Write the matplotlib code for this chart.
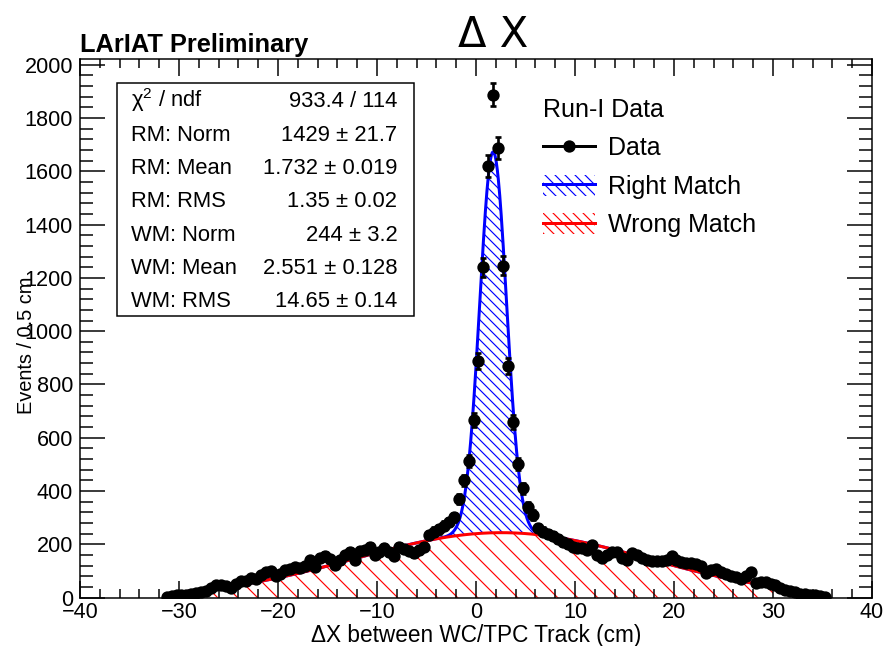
import numpy as np
import matplotlib
matplotlib.use("Agg")
import matplotlib.pyplot as plt
from matplotlib.patches import Patch, Rectangle
from matplotlib.lines import Line2D
from matplotlib.legend_handler import HandlerTuple
from matplotlib.ticker import MultipleLocator

# ---------------------------------------------------------------- data
bin_width = 0.5
first_bin_center = -31.25
counts = [
    # -31.25 ... -5.25
    3, 8, 10, 11, 9, 13, 16, 20, 24, 36,
    46, 48, 44, 36, 52, 62, 64, 74, 72, 84,
    96, 100, 82, 90, 104, 108, 114, 112, 118, 140,
    114, 150, 158, 146, 124, 140, 160, 172, 142, 176,
    178, 190, 160, 172, 186, 170, 156, 190, 184, 176,
    166, 178, 192,
    # -4.75 ... 6.75
    236, 248, 256, 270, 284, 302, 370, 440, 512, 666,
    887, 1240, 1620, 1887, 1688, 1245, 870, 660, 500, 410,
    341, 310, 262, 248,
    # 7.25 ... 35.25
    240, 230, 222, 210, 200, 192, 188, 185, 180, 196,
    160, 150, 162, 170, 172, 150, 142, 166, 162, 148,
    140, 138, 136, 138, 140, 155, 140, 134, 130, 131,
    126, 120, 92, 104, 106, 96, 88, 80, 76, 72,
    80, 98, 55, 58, 60, 52, 46, 36, 30, 24,
    20, 15, 13, 11, 9, 6, 4,
]

# fit results (right match / wrong match gaussians)
rm_norm, rm_mean, rm_rms = 1429.0, 1.732, 1.35
wm_norm, wm_mean, wm_rms = 244.0, 2.551, 14.65
fit_range = (-30.0, 30.0)

stats_labels = [r"χ$^{2}$ / ndf", "RM: Norm", "RM: Mean", "RM: RMS",
                "WM: Norm", "WM: Mean", "WM: RMS"]
stats_values = ["933.4 / 114", "1429 ± 21.7", "1.732 ± 0.019", "1.35 ± 0.02",
                "244 ± 3.2", "2.551 ± 0.128", "14.65 ± 0.14"]

# ---------------------------------------------------------------- style
W, H, DPI = 885, 646, 120
plt.rcParams["font.family"] = ["Liberation Sans", "DejaVu Sans"]
plt.rcParams["mathtext.fontset"] = "custom"
plt.rcParams["mathtext.rm"] = "Liberation Sans"
plt.rcParams["mathtext.it"] = "Liberation Sans:italic"
plt.rcParams["hatch.linewidth"] = 0.7

HATCH_SPARSE = "\\" * 2
HATCH_DENSE = "\\" * 4


def fx(px):
    return px / W


def fy(py):
    return 1.0 - py / H


fig = plt.figure(figsize=(W / DPI, H / DPI), dpi=DPI)
ax = fig.add_axes([fx(80), fy(597.7), (872 - 80) / W, (597.7 - 59.3) / H])


def gauss(x, n, m, s):
    return n * np.exp(-0.5 * ((x - m) / s) ** 2)


# ---------------------------------------------------------------- fit curves
xc = np.linspace(fit_range[0], fit_range[1], 1201)
wm_curve = gauss(xc, wm_norm, wm_mean, wm_rms)
total_curve = wm_curve + gauss(xc, rm_norm, rm_mean, rm_rms)

ax.fill_between(xc, wm_curve, total_curve, facecolor="none", edgecolor="blue",
                hatch=HATCH_DENSE, linewidth=0)
ax.fill_between(xc, 0, wm_curve, facecolor="none", edgecolor="red",
                hatch=HATCH_SPARSE, linewidth=0)
ax.plot(xc, total_curve, color="blue", lw=1.8)
ax.plot(xc, wm_curve, color="red", lw=1.8)

# ---------------------------------------------------------------- data points
counts = np.asarray(counts, dtype=float)
centers = first_bin_center + bin_width * np.arange(len(counts))
ax.errorbar(centers, counts, yerr=np.sqrt(counts), fmt="o", color="black",
            ms=6.4, elinewidth=1.6, capsize=2.0, capthick=1.6, zorder=5)

# ---------------------------------------------------------------- axes
ax.set_xlim(-40, 40)
ax.set_ylim(0, 2020)
ax.xaxis.set_major_locator(MultipleLocator(10))
ax.xaxis.set_minor_locator(MultipleLocator(2))
ax.yaxis.set_major_locator(MultipleLocator(200))
ax.yaxis.set_minor_locator(MultipleLocator(40))
for s in ax.spines.values():
    s.set_linewidth(0.9)
ax.tick_params(which="both", direction="in", top=True, right=True,
               width=0.9, labelsize=13)
ax.tick_params(axis="x", which="major", length=10.2, pad=2.4)
ax.tick_params(axis="x", which="minor", length=5.4)
ax.tick_params(axis="y", which="major", length=15, pad=4.2)
ax.tick_params(axis="y", which="minor", length=7.8)

ax.set_xlabel("ΔX between WC/TPC Track (cm)", fontsize=13.6, va="baseline")
ax.xaxis.set_label_coords(0.5, (597.7 - 641.7) / 538.4)
ax.set_ylabel("Events / 0.5 cm", fontsize=12, va="center")
ax.yaxis.set_label_coords((26 - 80) / 792, (597.7 - 345) / 538.4)

# ---------------------------------------------------------------- titles
fig.text(fx(493), fy(46.7), "Δ X", fontsize=25, family="DejaVu Sans",
         ha="center", va="baseline")
fig.text(fx(80), fy(51.7), "LArIAT Preliminary", fontsize=15.2,
         weight="bold", ha="left", va="baseline")

# ---------------------------------------------------------------- fit box
fig.add_artist(Rectangle((fx(116.7), fy(316)), (414.3 - 116.7) / W,
                         (316 - 83.3) / H, transform=fig.transFigure,
                         fill=False, lw=0.9, ec="black"))
for i, (lab, val) in enumerate(zip(stats_labels, stats_values)):
    yb = 107.3 + 33.3 * i
    fig.text(fx(130.7), fy(yb), lab, fontsize=13.2, ha="left", va="baseline")
    fig.text(fx(397.3), fy(yb), val, fontsize=13.2, ha="right", va="baseline")

# ---------------------------------------------------------------- legend
h_data = Line2D([], [], color="black", marker="o", ms=6.4, lw=1.8)
h_rm = (Patch(facecolor="none", edgecolor="blue", hatch=HATCH_DENSE, linewidth=0),
        Line2D([], [], color="blue", lw=1.8))
h_wm = (Patch(facecolor="none", edgecolor="red", hatch=HATCH_DENSE, linewidth=0),
        Line2D([], [], color="red", lw=1.8))
leg = ax.legend([h_data, h_rm, h_wm], ["Data", "Right Match", "Wrong Match"],
                handler_map={tuple: HandlerTuple(ndivide=1)},
                title="Run-I Data", title_fontsize=15, fontsize=15,
                alignment="left", frameon=False, borderpad=0,
                borderaxespad=0, handlelength=2.09, handletextpad=0.5,
                handleheight=0.92, labelspacing=0.57,
                loc="upper left", bbox_to_anchor=(fx(543), fy(98)),
                bbox_transform=fig.transFigure)

fig.savefig("out.png", dpi=DPI)
